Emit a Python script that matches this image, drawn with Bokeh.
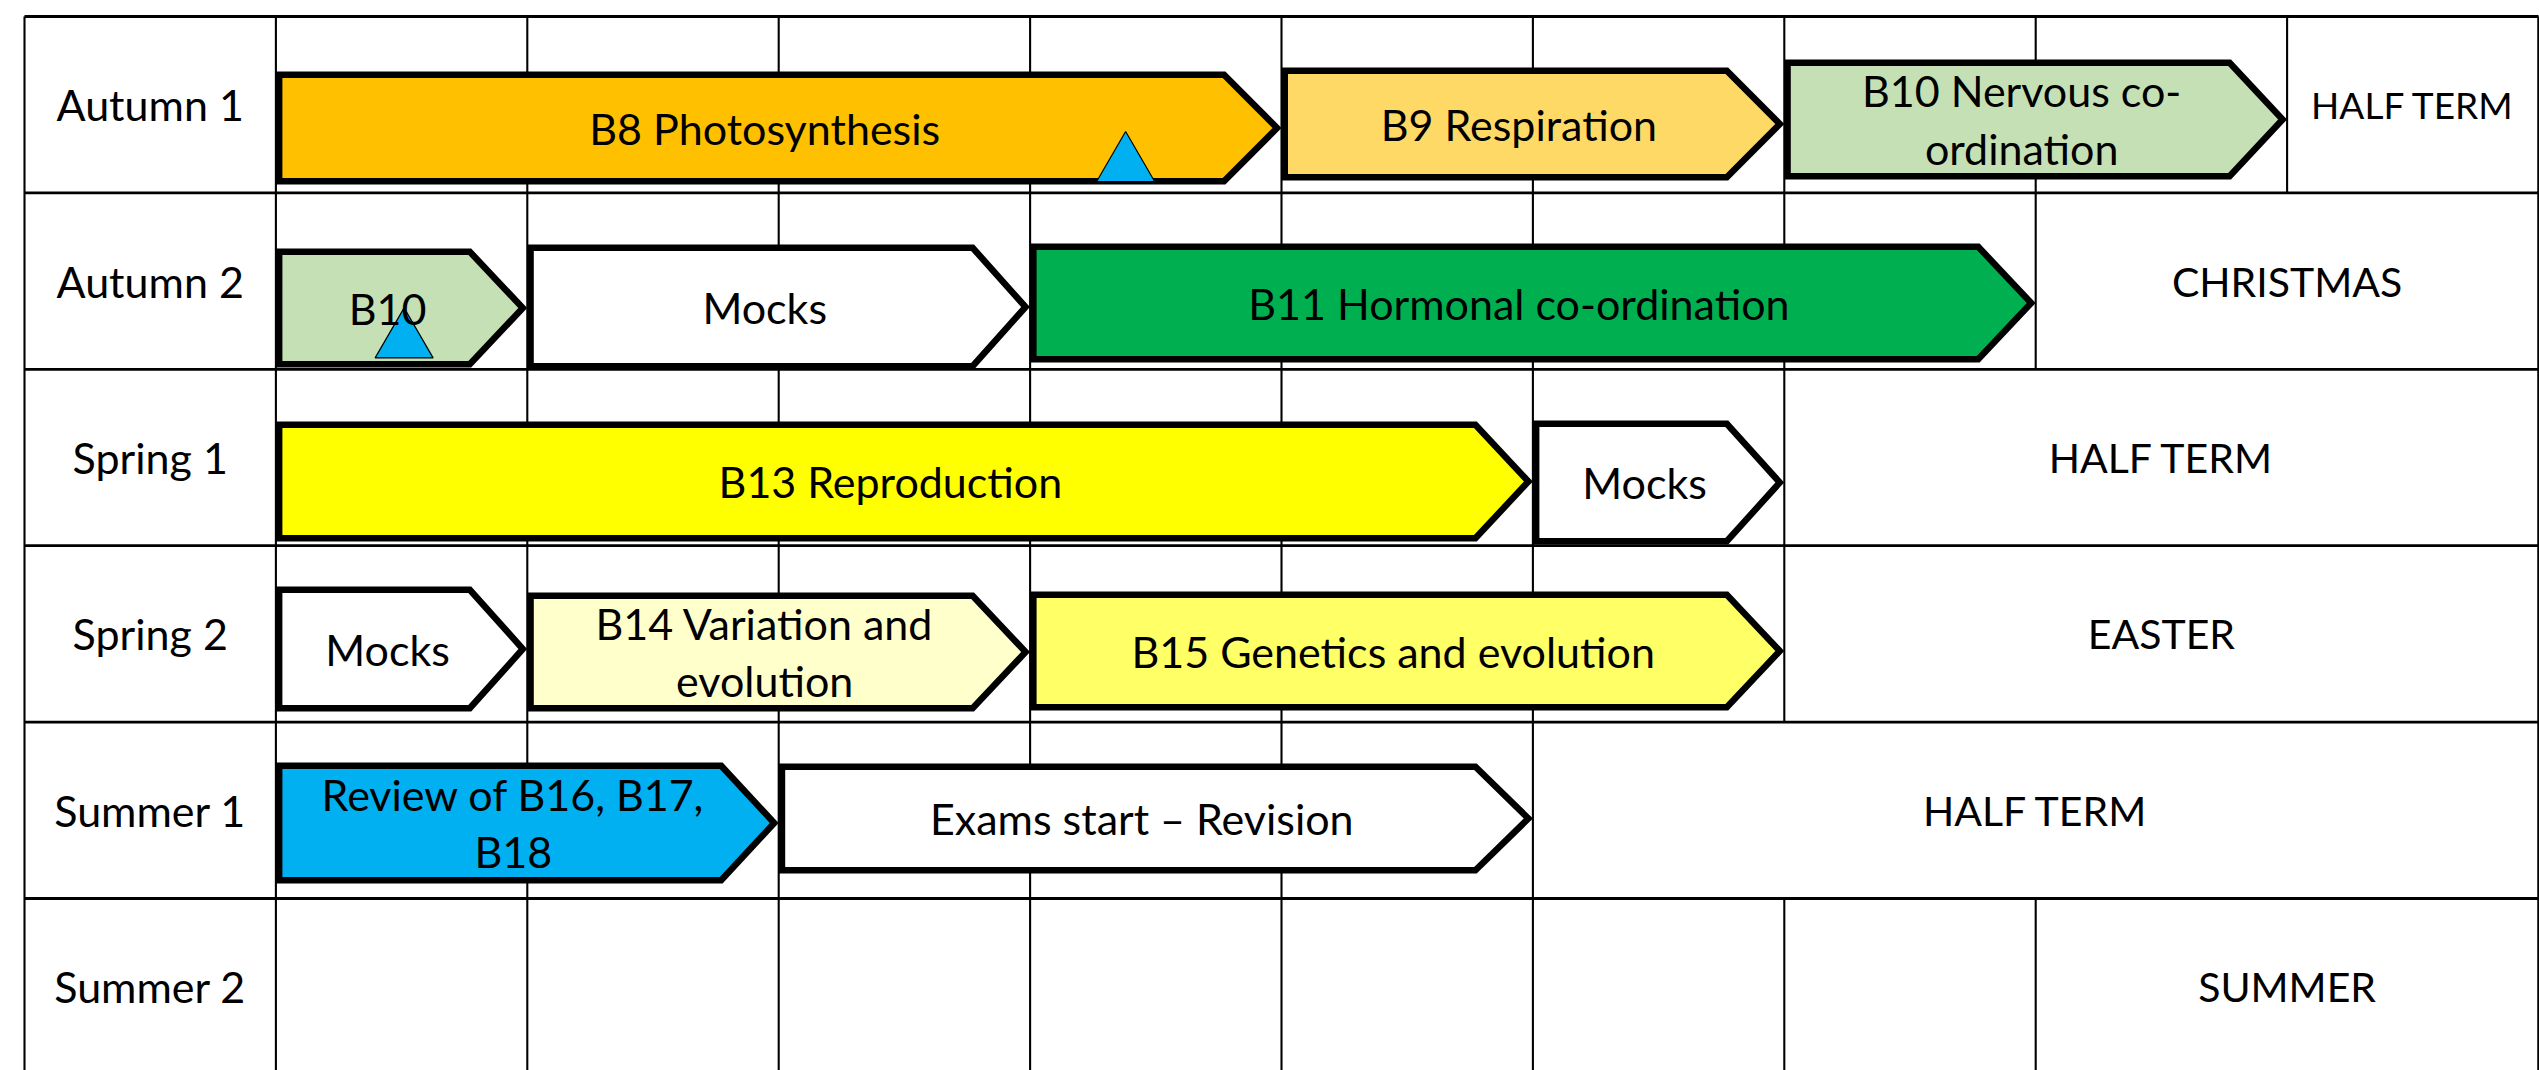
from bokeh.plotting import figure
from bokeh.models import Range1d, ColumnDataSource
from bokeh.embed import file_html
from bokeh.resources import INLINE
from bokeh.core.properties import value

# ---------------- data ----------------
terms = ["Autumn 1", "Autumn 2", "Spring 1", "Spring 2", "Summer 1", "Summer 2"]
n_weeks = 9
holiday_labels = ["HALF TERM", "CHRISTMAS", "HALF TERM", "EASTER", "HALF TERM", "SUMMER"]
holiday_start_week = [8, 7, 6, 6, 5, 7]

unit_labels = ["B8 Photosynthesis", "B9 Respiration", "B10 Nervous co-\nordination",
               "B10", "Mocks", "B11 Hormonal co-ordination",
               "B13 Reproduction", "Mocks",
               "Mocks", "B14 Variation and\nevolution", "B15 Genetics and evolution",
               "Review of B16, B17,\nB18", "Exams start \u2013 Revision"]
unit_term = [0, 0, 0, 1, 1, 1, 2, 2, 3, 3, 3, 4, 4]
unit_start_week = [0, 4, 6, 0, 1, 3, 0, 5, 0, 1, 3, 0, 2]
unit_weeks = [4, 2, 2, 1, 2, 4, 5, 1, 1, 2, 3, 2, 3]
unit_colors = ["#FFC000", "#FFD966", "#C5E0B4", "#C5E0B4", "#FFFFFF", "#00B050",
               "#FFFF00", "#FFFFFF", "#FFFFFF", "#FFFFCC", "#FFFF66", "#00B0F0", "#FFFFFF"]

assess_term = [0, 1]
assess_week = [3.38, 0.51]

# ---------------- layout / style ----------------
PAGE_W, PAGE_H = 2539, 1070
TABLE_LEFT, TABLE_TOP = 24, 16
COL_W, ROW_H = 251.4, 176.4
DX, DY = 1.0 / COL_W, 1.0 / ROW_H
FONT = value("Lato")
FS = "43px"
arrow_top_px = [55, 51, 43, 55.6, 51.6, 50.6, 52.2, 51.2, 40.8, 46.8, 45.8, 40.4, 41.4]
arrow_bot_px = [168, 164, 163, 174.6, 176.6, 169.6, 172.2, 175.2, 165.8, 165.8, 164.8, 161.4, 151.4]
holiday_fs = ["37px", "41px", "41px", "41px", "41px", "41px"]
LW = 6.5

x_range = Range1d(-TABLE_LEFT * DX, (PAGE_W - TABLE_LEFT) * DX)
y_range = Range1d((PAGE_H - TABLE_TOP) * DY, -TABLE_TOP * DY)

p = figure(width=PAGE_W, height=PAGE_H, x_range=x_range, y_range=y_range,
           output_backend="svg", toolbar_location=None, min_border=0)
p.axis.visible = False
p.grid.visible = False
p.outline_line_color = None
p.background_fill_color = "white"

ncols = n_weeks + 1
nrows = len(terms)

# horizontal grid lines
hx0, hx1, hy = [], [], []
for r in range(nrows + 1):
    hx0.append(0); hx1.append(ncols); hy.append(r)
p.segment(x0=hx0, y0=hy, x1=hx1, y1=hy, line_color="#000000", line_width=2.8)

# vertical grid lines
vx, vy0, vy1 = [0], [0], [nrows]
vx.append(min(ncols, x_range.end - 1.2 * DX)); vy0.append(0); vy1.append(nrows)
for r in range(nrows):
    for c in range(1, holiday_start_week[r] + 2):
        vx.append(c); vy0.append(r); vy1.append(r + 1)
p.segment(x0=vx, y0=vy0, x1=vx, y1=vy1, line_color="#000000", line_width=2.1)

# arrows (chevron pentagons)
xs, ys, tx, ty = [], [], [], []
for i in range(len(unit_labels)):
    left_o = unit_start_week[i] + 1
    tip_o = left_o + unit_weeks[i]
    s = left_o + (LW / 2) * DX
    tip = tip_o - 4.5 * DX
    body = tip - 53 * DX
    top = unit_term[i] + (arrow_top_px[i] + LW / 2) * DY
    bot = unit_term[i] + (arrow_bot_px[i] - LW / 2) * DY
    mid = (top + bot) / 2
    xs.append([s, body, tip, body, s])
    ys.append([top, top, mid, bot, bot])
    tx.append((left_o + tip_o - 28 * DX) / 2)
    ty.append(mid)
p.patches(xs=xs, ys=ys, fill_color=unit_colors, line_color="#000000",
          line_width=LW, line_join="miter")

# assessment triangles
txs, tys = [], []
for t, w in zip(assess_term, assess_week):
    cx = w + 1
    txs.append([cx - 29 * DX, cx + 29 * DX, cx])
    tys.append([t + 165 * DY, t + 165 * DY, t + 115 * DY])
p.patches(xs=txs, ys=tys, fill_color="#00B0F0", line_color="#000000", line_width=1.2)

# unit texts
usrc = ColumnDataSource(dict(x=tx, y=ty, text=unit_labels))
p.text(x="x", y="y", text="text", source=usrc, text_font=FONT, text_font_size=FS,
       text_align="center", text_baseline="middle", text_color="#000000",
       text_line_height=1.12)

# row labels
p.text(x=[0.5] * nrows, y=[r + 0.5 for r in range(nrows)], text=terms,
       text_font=FONT, text_font_size=FS, text_align="center",
       text_baseline="middle", text_color="#000000")

# holiday labels
hsrc = ColumnDataSource(dict(
    x=[(hs + 1 + ncols) / 2 for hs in holiday_start_week],
    y=[r + 0.5 for r in range(nrows)],
    text=holiday_labels, fs=holiday_fs))
p.text(x="x", y="y", text="text", source=hsrc, text_font=FONT, text_font_size="fs",
       text_align="center", text_baseline="middle", text_color="#000000")

open("out.html", "w").write(file_html(p, INLINE))
